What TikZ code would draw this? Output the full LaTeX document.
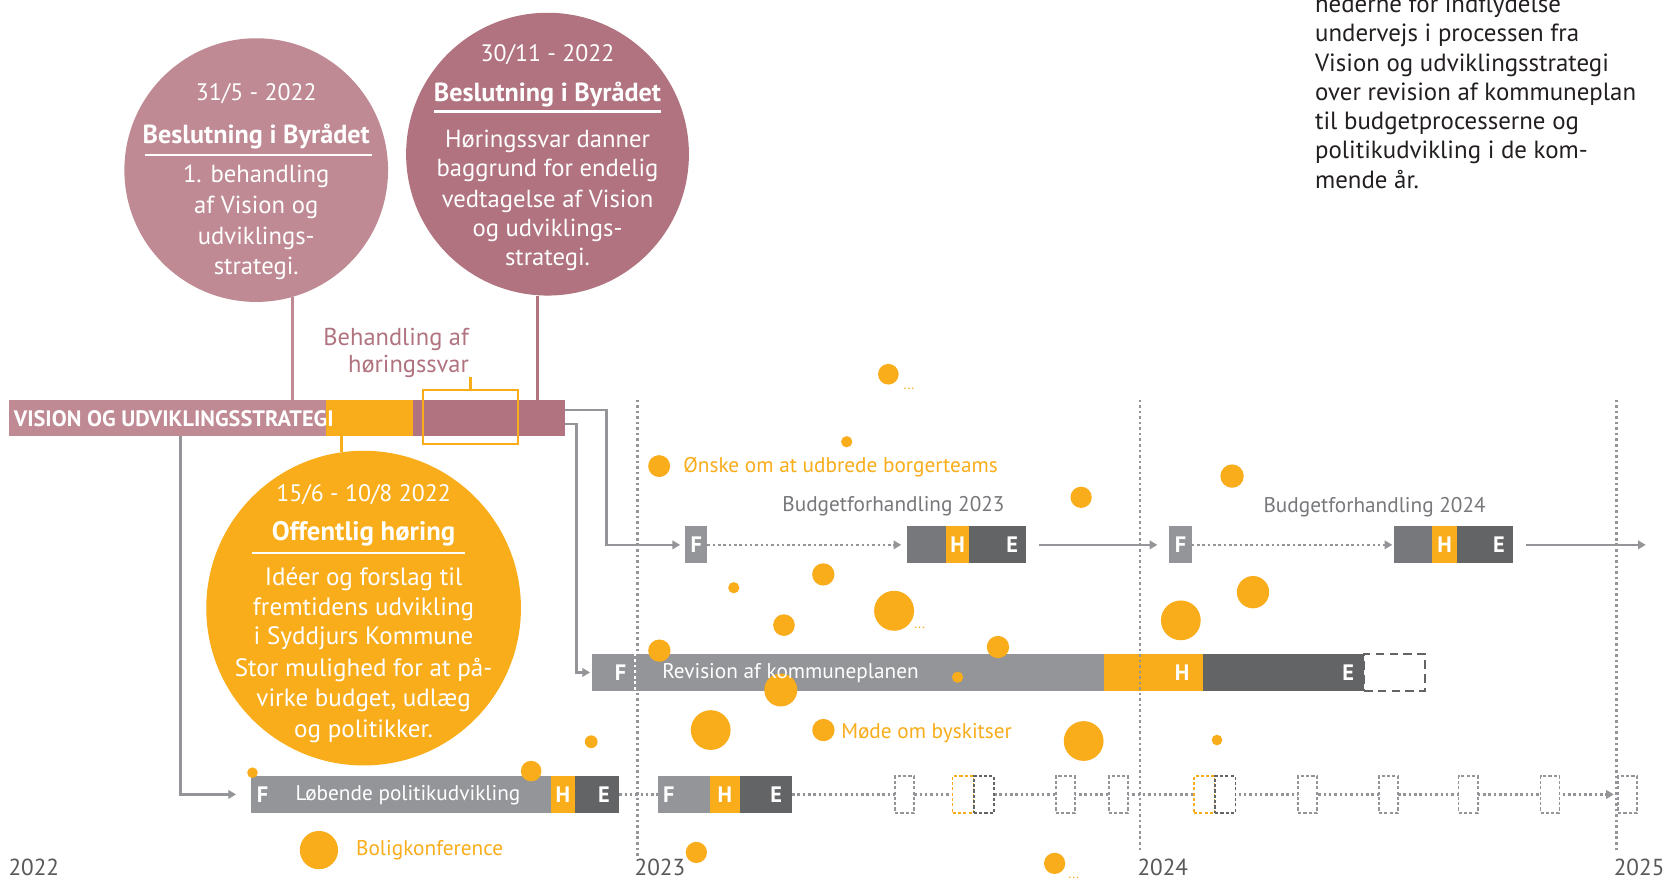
\documentclass[tikz,border=0pt]{standalone}
\usepackage{fontspec}
\setmainfont{PT Sans}
\usetikzlibrary{arrows.meta,calc}
\definecolor{mauveL}{HTML}{BF8A93}
\definecolor{mauveD}{HTML}{B0737F}
\definecolor{org}{HTML}{F9AD1B}
\definecolor{gL}{HTML}{939598}
\definecolor{gM}{HTML}{77787B}
\definecolor{gD}{HTML}{636466}
\definecolor{ink}{HTML}{231F20}
\definecolor{yr}{HTML}{58595B}
\newcommand\seg[6]{\node[#6, anchor=north west, inner sep=0pt, outer sep=0pt, minimum width={(#4-#2)*0.5pt}, minimum height={(#5-#3)*0.5pt}] (#1) at (#2,#3) {};}
\newcommand\pdot[4]{\node[circle, fill=org, inner sep=0pt, outer sep=0pt, minimum size={#4*1pt}] (#1) at (#2,#3) {};}
\begin{document}
\begin{tikzpicture}[x=0.5pt,y=-0.5pt,
  base/.style={inner sep=0pt, outer sep=0pt},
  ct/.style={base, text=white, font=\fontsize{11.6}{13}\selectfont},
  cd/.style={base, text=white, font=\fontsize{11.2}{13}\selectfont},
  cb/.style={base, text=white, font=\bfseries\fontsize{12.3}{14}\selectfont},
  oct/.style={base, text=white, font=\fontsize{11.8}{13}\selectfont},
  ocd/.style={base, text=white, font=\fontsize{11.2}{13}\selectfont},
  ocb/.style={base, text=white, font=\bfseries\fontsize{12.6}{14}\selectfont},
  tr/.style={base, anchor=mid west, text=ink, font=\fontsize{11.7}{13}\selectfont},
  ml/.style={base, text=mauveD, font=\fontsize{11.5}{13}\selectfont},
  let/.style={base, text=white, font=\bfseries\fontsize{10.5}{12}\selectfont},
  bt/.style={base, anchor=mid west, text=white, font=\fontsize{10}{12}\selectfont},
  bl/.style={base, text=gM, font=\fontsize{10}{12}\selectfont},
  ol/.style={base, anchor=mid west, text=org, font=\fontsize{10}{12}\selectfont},
  el/.style={base, anchor=base west, text=org, font=\fontsize{6.5}{8}\selectfont},
  yl/.style={base, anchor=mid west, text=yr, font=\fontsize{10.9}{12}\selectfont},
  conn/.style={draw=gL, line width=1.25pt},
  dotl/.style={draw=gL, line width=1.2pt, dash pattern=on 1.2pt off 1.3pt},
  yrline/.style={draw=gL, line width=1.1pt, dash pattern=on 1.2pt off 1.4pt},
  tip/.style={-{Triangle[length=3.6pt,width=4pt]}},
  sbx/.style={fill=white, line width=0.8pt, dash pattern=on 1.5pt off 1pt},
  uline/.style={draw=white, line width=1.2pt}]
\useasboundingbox (0,0) rectangle (1568,830);
\fill[white] (0,0) rectangle (1568,830);

% top-right text
\foreach \t [count=\i] in {hederne for indflydelse, undervejs i processen fra, Vision og udviklingsstrategi, over revision af kommuneplan, til budgetprocesserne og, politikudvikling i de kom-, mende år.}
  \node[tr] (tr\i) at (1237,{7+27.5*(\i-1)}) {\t};

% circles
\node[circle, fill=mauveL, minimum size=124pt, inner sep=0pt] (c1) at (241,160) {};
\node[circle, fill=mauveD, minimum size=133pt, inner sep=0pt] (c2) at (515,145) {};
\node[circle, fill=org, minimum size=148pt, inner sep=0pt] (c3) at (342,572) {};

\node[cd] (c1a) at (241,88) {31/5 - 2022};
\node[cb] (c1b) at (241,128) {Beslutning i Byrådet};
\draw[uline] (136,146) -- (350,146);
\node[ct] (c1c) at (241,166) {1. behandling};
\node[ct] (c1d) at (241,195.5) {af Vision og};
\node[ct] (c1e) at (241,224) {udviklings-};
\node[ct] (c1f) at (241,252.5) {strategi.};

\node[cd] (c2a) at (515,51) {30/11 - 2022};
\node[cb] (c2b) at (515,89) {Beslutning i Byrådet};
\draw[uline] (408,105) -- (622,105);
\node[ct] (c2c) at (515,133) {Høringssvar danner};
\node[ct] (c2d) at (515,160.5) {baggrund for endelig};
\node[ct] (c2e) at (515,189) {vedtagelse af Vision};
\node[ct] (c2f) at (515,216.5) {og udviklings-};
\node[ct] (c2g) at (515,244) {strategi.};

\node[ocd] (c3a) at (342,465) {15/6 - 10/8 2022};
\node[ocb] (c3b) at (342,502) {Offentlig høring};
\draw[uline] (237,520) -- (437,520);
\node[oct] (c3c) at (342,545) {Idéer og forslag til};
\node[oct] (c3d) at (342,573) {fremtidens udvikling};
\node[oct] (c3e) at (342,600) {i Syddjurs Kommune};
\node[oct] (c3f) at (342,630) {Stor mulighed for at på-};
\node[oct] (c3g) at (342,659) {virke budget, udlæg};
\node[oct] (c3h) at (342,688) {og politikker.};

% vision bar
\seg{vb1}{8}{376}{307}{410}{fill=mauveL}
\seg{vb2}{307}{376}{388}{410}{fill=org}
\seg{vb3}{388}{376}{531.5}{410}{fill=mauveD}
\node[base, anchor=west, text=white, font=\bfseries\fontsize{10.5}{12}\selectfont] (vbt) at (13,393.5) {VISION OG UDVIKLINGSSTRATEGI};
\node[draw=org, line width=1pt, inner sep=0pt, minimum width=44.5pt, minimum height=25.5pt, anchor=north west] (brk) at (397,366) {};
\node[ml, anchor=mid east] (hb1) at (441,320) {Behandling af};
\node[ml, anchor=mid east] (hb2) at (441,345) {høringssvar};
\draw[org, line width=1pt] (brk.north) -- (brk.north |- hb2.south);

\draw[mauveL, line width=1.25pt] (c1.-74) -- (c1.-74 |- vb1.north);
\draw[mauveD, line width=1.25pt] (c2.-94) -- (c2.-94 |- vb3.north);
\draw[org, line width=1.25pt] (c3.98.5) -- (c3.98.5 |- vb2.south);

% budget rows
\seg{fb1}{644.5}{495}{665.4}{530}{fill=gL}
\seg{hb1a}{852.7}{495}{889.6}{530}{fill=gM}
\seg{hb1b}{889.6}{495}{911.9}{530}{fill=org}
\seg{hb1c}{911.9}{495}{965}{530}{fill=gD}
\node[let] (fb1t) at (fb1) {F};
\node[let] (hb1bt) at (hb1b) {H};
\node[let] (hb1ct) at (952,512.5) {E};
\node[bl] (bf1) at (840.4,476) {Budgetforhandling 2023};

\seg{fb2}{1100}{495}{1121}{530}{fill=gL}
\seg{hb2a}{1311}{495}{1347}{530}{fill=gM}
\seg{hb2b}{1347}{495}{1370.6}{530}{fill=org}
\seg{hb2c}{1370.6}{495}{1423}{530}{fill=gD}
\node[let] (fb2t) at (fb2) {F};
\node[let] (hb2bt) at (hb2b) {H};
\node[let] (hb2ct) at (1410,512.5) {E};
\node[bl] (bf2) at (1293,477) {Budgetforhandling 2024};
\coordinate (bend) at (1548,512.5);

\draw[dotl, tip, shorten >=2.5pt] (fb1.east) -- (hb1a.west);
\draw[conn, tip, shorten <=6pt, shorten >=5.7pt] (hb1c.east) -- (fb2.west);
\draw[dotl, tip, shorten >=0.7pt] (fb2.east) -- (hb2a.west);
\draw[conn, tip, shorten <=6pt] (hb2c.east) -- (bend);

% revision row
\seg{rv1}{557}{615}{597.3}{650}{fill=gL}
\seg{rv2}{597.3}{615}{1038}{650}{fill=gL}
\seg{rv3}{1038}{615}{1131.5}{650}{fill=org}
\seg{rv4}{1131.5}{615}{1283}{650}{fill=gD}
\seg{rv5}{1283}{615}{1340}{650}{draw=gD, line width=1pt, dash pattern=on 4pt off 2.5pt}

% bottom row
\seg{lp1}{236}{730}{518}{764.5}{fill=gL}
\seg{lp2}{518}{730}{541}{764.5}{fill=org}
\seg{lp3}{541}{730}{582.5}{764.5}{fill=gD}
\seg{lq1}{619}{730}{667.8}{764.5}{fill=gL}
\seg{lq2}{667.8}{730}{695.8}{764.5}{fill=org}
\seg{lq3}{695.8}{730}{745}{764.5}{fill=gD}
\draw[dotl] (lp3.east) -- (lq1.west);
\seg{sb12}{1522}{730}{1540}{764.5}{sbx, draw=gL}
\draw[dotl, tip, shorten >=2pt] (lq3.east) -- (sb12.west);
\seg{sb1}{842}{730}{860}{764.5}{sbx, draw=gL}
\seg{sb2}{896}{730}{916}{764.5}{sbx, draw=org}
\seg{sb3}{916}{730}{935}{764.5}{sbx, draw=gD}
\seg{sb4}{993}{730}{1011}{764.5}{sbx, draw=gL}
\seg{sb5}{1043}{730}{1061}{764.5}{sbx, draw=gL}
\seg{sb6}{1123}{730}{1143}{764.5}{sbx, draw=org}
\seg{sb7}{1143}{730}{1162}{764.5}{sbx, draw=gD}
\seg{sb8}{1221}{730}{1239}{764.5}{sbx, draw=gL}
\seg{sb9}{1297}{730}{1315}{764.5}{sbx, draw=gL}
\seg{sb10}{1372}{730}{1390}{764.5}{sbx, draw=gL}
\seg{sb11}{1449}{730}{1467}{764.5}{sbx, draw=gL}

% connectors from vision bar
\coordinate (cx) at (170,0);
\draw[conn, tip, shorten >=2.4pt] ($(vb3.east)+(0,-7.3)$) -- ++(39.2,0) |- (fb1.west);
\draw[conn, tip, shorten >=1pt] ($(vb3.east)+(0,5.8)$) -- ++(11,0) |- (rv1.west);
\draw[conn, tip, shorten >=7pt] (vb1.south -| cx) |- (lp1.west);

% year lines
\draw[yrline] (599.5,376) -- (599.5,807);
\draw[yrline] (1072,376) -- (1072,801);
\draw[yrline] (1520.5,376) -- (1520.5,800);
\draw[white, line width=1.2pt, dash pattern=on 1.2pt off 1.4pt] (rv1.north east) -- (rv1.south east);

% orange dots
\pdot{d1}{835.6}{352}{9.7}
\pdot{d2}{796.4}{415.5}{5.3}
\pdot{d3}{620}{438.4}{10.3}
\pdot{d4}{1016.9}{467.8}{10}
\pdot{d5}{1158.9}{447.8}{11}
\pdot{d6}{774.4}{540.3}{10.5}
\pdot{d7}{690.2}{552.8}{5.3}
\pdot{d8}{841}{574.5}{18.8}
\pdot{d9}{737.4}{588}{10.2}
\pdot{d10}{620.2}{612}{10.5}
\pdot{d11}{938.7}{608.6}{10.5}
\pdot{d12}{900.7}{637}{5.3}
\pdot{d13}{734.4}{649}{15.5}
\pdot{d14}{1110.7}{583.5}{18.7}
\pdot{d15}{1178.6}{557}{15.2}
\pdot{d16}{668.5}{686.7}{18.7}
\pdot{d17}{774.5}{686.7}{10.5}
\pdot{d18}{1019.3}{697}{18.7}
\pdot{d19}{1144.7}{696.1}{5}
\pdot{d20}{556.1}{697.7}{6}
\pdot{d21}{499.6}{725.3}{9.7}
\pdot{d22}{237.5}{726.8}{5}
\pdot{d23}{300}{799.6}{18}
\pdot{d24}{655}{801.8}{10}
\pdot{d25}{992}{812.1}{10}

\node[el] (e1) at (850,366) {...};
\node[el] (e2) at (860,591) {...};
\node[el] (e3) at (1005,826) {...};
\node[ol] (l1) at (642.8,439) {Ønske om at udbrede borgerteams};
\node[ol] (l2) at (791.3,689.9) {Møde om byskitser};
\node[ol] (l3) at (335,799.6) {Boligkonference};

% bar texts
\node[let] (rv1t) at (583.6,632.5) {F};
\node[bt] (rv2t) at (623,633) {Revision af kommuneplanen};
\node[let] (rv3t) at (1112,632.5) {H};
\node[let] (rv4t) at (1268,632.5) {E};
\node[let] (lp1t) at (247,747.3) {F};
\node[bt] (lp1s) at (278,747.5) {Løbende politikudvikling};
\node[let] (lp2t) at (lp2) {H};
\node[let] (lp3t) at (568,747.3) {E};
\node[let] (lq1t) at (629,747.3) {F};
\node[let] (lq2t) at (lq2) {H};
\node[let] (lq3t) at (730,747.3) {E};

% year labels
\node[yl] (y1) at (8,818.4) {2022};
\node[yl] (y2) at (597,818.4) {2023};
\node[yl] (y3) at (1070,818.4) {2024};
\node[yl] (y4) at (1518,818.4) {2025};
\end{tikzpicture}
\end{document}
